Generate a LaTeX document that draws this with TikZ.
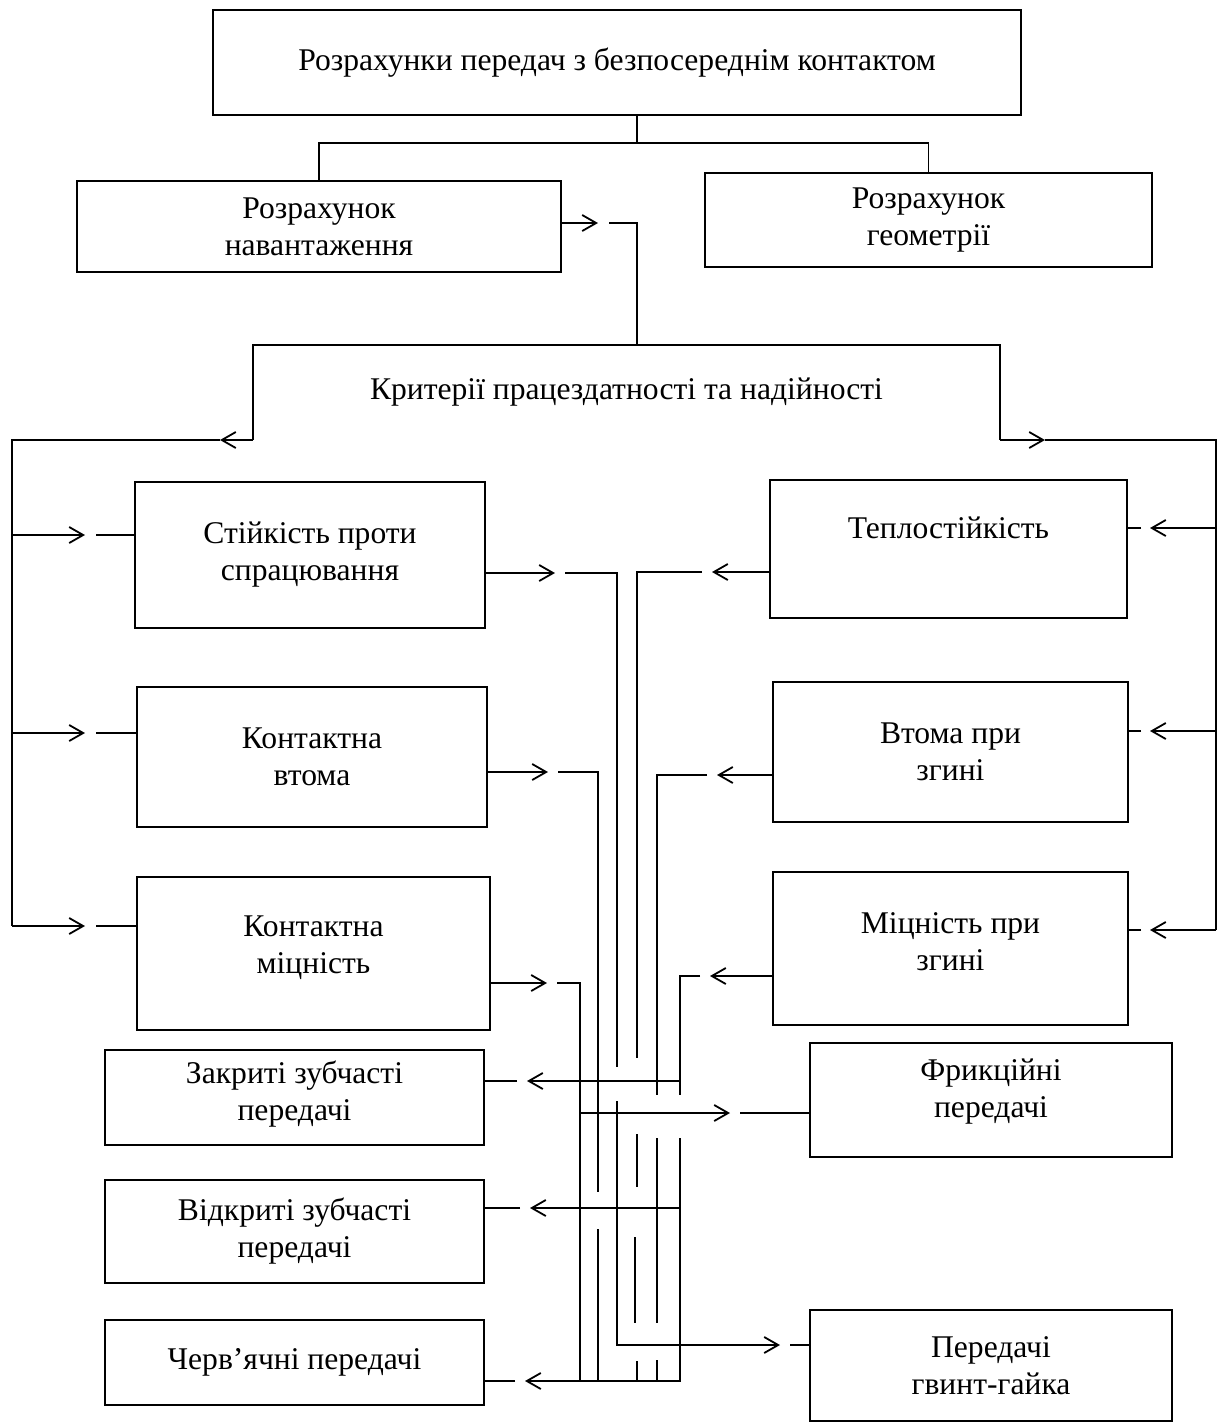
\documentclass[tikz,border=0pt]{standalone}
\usepackage{fontspec}
\setmainfont{Liberation Serif}
\usetikzlibrary{calc,arrows.meta}
% Syntax: {path up to the tip}(tip)(gap in px){rest of path after the gap}
\def\chevpath#1(#2)(#3)#4{\draw[con,chev] #1 (#2); \draw[con] ($(#2)+(#3,0)$) #4;}

\begin{document}
\begin{tikzpicture}[x=0.5pt,y=-0.5pt,
	box/.style={draw,line width=1.4pt,inner sep=0pt,outer sep=0pt,align=center,
		font=\fontsize{15.8}{18.5}\selectfont},
	wh/.style 2 args={minimum width=#1*0.5pt,minimum height=#2*0.5pt},
	con/.style={line width=0.9pt},
	chev/.style={-{Straight Barb[length=7pt,width=8pt]}}]
	\useasboundingbox (0,0) rectangle (1221,1425);

	%top levels
	\node[box,wh={808}{105}] (top) at (617,62.5) {Розрахунки передач з безпосереднім контактом};
	\node[box,wh={484}{91}] (load) at (319,226.5) {Розрахунок\\навантаження};
	\node[box,wh={447}{94}] (geom) at (928.5,220) {Розрахунок\\геометрії};
	\node[box,wh={747}{95},draw=none] (crit) at (626.5,392.5) {Критерії працездатності та надійності};
	\draw[line width=1.4pt] (crit.south west) |- (crit.north east) -- (crit.south east);

	%criteria, left
	\node[box,wh={350}{146}] (wear) at (310,555) {Стійкість проти\\спрацювання};
	\node[box,wh={350}{140}] (cfat) at (312,757) {Контактна\\втома};
	\node[box,wh={353}{153},text depth=9pt] (cstr) at (313.5,953.5) {Контактна\\міцність};
	%criteria, right
	\node[box,wh={357}{138},text depth=21pt] (heat) at (948.5,549) {Теплостійкість};
	\node[box,wh={355}{140}] (bfat) at (950.5,752) {Втома при\\згині};
	\node[box,wh={355}{153},text depth=7pt] (bstr) at (950.5,948.5) {Міцність при\\згині};

	%kinds of drives
	\node[box,wh={379}{95},text depth=7pt] (closed) at (294.5,1097.5) {Закриті зубчасті\\передачі};
	\node[box,wh={379}{103}] (open) at (294.5,1231.5) {Відкриті зубчасті\\передачі};
	\node[box,wh={379}{85}] (worm) at (294.5,1362.5) {Черв’ячні передачі};
	\node[box,wh={362}{114},text depth=12pt] (fric) at (991,1100) {Фрикційні\\передачі};
	\node[box,wh={362}{111}] (screw) at (991,1365.5) {Передачі\\гвинт-гайка};

	%top branching
	\coordinate (sp) at (637,143);
	\draw[con] (top.south -| sp) -- (sp);
	\draw[con] (load.north) |- (sp) -| (geom.north);
	\coordinate (lc) at (637,223);
	\chevpath{(load.east |- lc) --}(598,223)(11){-- (lc) -- (crit.north -| lc)}

	%criteria bar
	\coordinate (cl) at (12,440);
	\coordinate (cr) at (1216,440);
	\draw[con,chev] (crit.south west) -- (220,440);
	\draw[con] (220,440) -- (cl) -- (12,926);
	\draw[con,chev] (crit.south east) -- (1045,440);
	\draw[con] (1045,440) -- (cr) -- (1216,930);

	%left side arrows
	\chevpath{(cl |- 0,535) --}(85,535)(11){-- (wear.west |- 0,535)}
	\chevpath{(cl |- 0,733) --}(85,733)(11){-- (cfat.west |- 0,733)}
	\chevpath{(cl |- 0,926) --}(85,926)(11){-- (cstr.west |- 0,926)}
	%right side arrows
	\chevpath{(cr |- 0,528) --}(1150,528)(-9){-- (heat.east |- 0,528)}
	\chevpath{(cr |- 0,731) --}(1150,731)(-9){-- (bfat.east |- 0,731)}
	\chevpath{(cr |- 0,930) --}(1150,930)(-9){-- (bstr.east |- 0,930)}

	%bus columns
	\coordinate (b1) at (580,983);	%Контактна міцність
	\coordinate (b2) at (598,772);	%Контактна втома
	\coordinate (b3) at (617,573);	%Стійкість
	\coordinate (b4) at (637,572);	%Теплостійкість
	\coordinate (b5) at (657,775);	%Втома при згині
	\coordinate (b6) at (680,976);	%Міцність при згині
	%bus rows
	\coordinate (r1) at (0,1081);	%closed
	\coordinate (r2) at (0,1113);	%friction
	\coordinate (r3) at (0,1208);	%open
	\coordinate (r4) at (0,1345);	%screw
	\coordinate (r5) at (0,1381);	%worm

	%criteria into the bus
	\chevpath{(wear.east |- b3) --}(555,573)(10){-| (617,1067)}
	\chevpath{(heat.west |- b4) --}(712,572)(-10){-| (637,1058)}
	\chevpath{(cfat.east |- b2) --}(548,772)(10){-| (598,1192)}
	\chevpath{(bfat.west |- b5) --}(717,775)(-10){-| (657,1095)}
	\chevpath{(cstr.east |- b1) --}(547,983)(10){-| (b1 |- r5)}
	\chevpath{(bstr.west |- b6) --}(710,976)(-10){-| (680,1095)}

	%bus pieces below the breaks
	\draw[con] (637,1134) -- (637,1187) (635,1237) -- (635,1323) (637,1361) -- (b4 |- r5);
	\draw[con] (598,1229) -- (b2 |- r5);
	\draw[con] (657,1138) -- (657,1323) (657,1360) -- (b5 |- r5);

	%bus out to the drives
	\chevpath{(b6 |- r1) --}(527,1081)(-10){-- (closed.east |- r1)}
	\chevpath{(b1 |- r2) --}(730,1113)(10){-- (fric.west |- r2)}
	\chevpath{(b6 |- r3) --}(530,1208)(-10){-- (open.east |- r3)}
	\chevpath{(617,1101) |-}(780,1345)(10){-- (screw.west |- r4)}
	\chevpath{(680,1138) |-}(525,1381)(-10){-- (worm.east |- r5)}
\end{tikzpicture}
\end{document}
